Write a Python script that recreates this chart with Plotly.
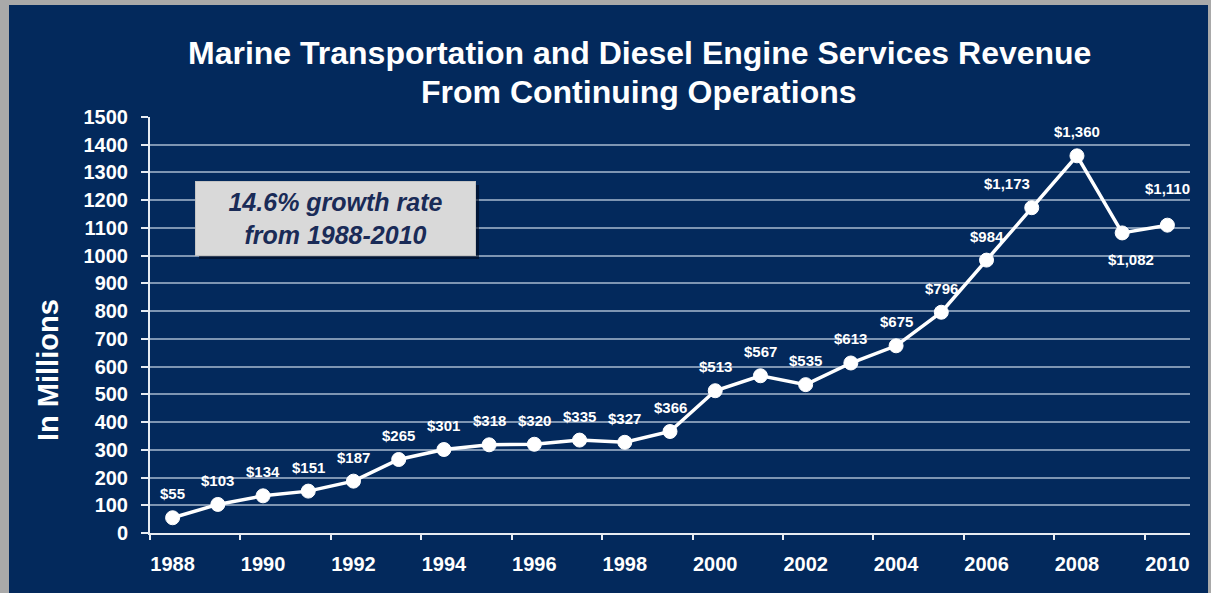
import plotly.graph_objects as go

years = list(range(1988, 2011))
revenue = [55, 103, 134, 151, 187, 265, 301, 318, 320, 335, 327, 366,
           513, 567, 535, 613, 675, 796, 984, 1173, 1360, 1082, 1110]
labels = ["$" + f"{v:,}" for v in revenue]
x_tick_years = list(range(1988, 2011, 2))
y_ticks = list(range(0, 1501, 100))

title_line1 = "Marine Transportation and Diesel Engine Services Revenue"
title_line2 = "From Continuing Operations"
y_title = "In Millions"
note_text = "14.6% growth rate<br>from 1988-2010"

NAVY = "#03295c"
FONT = "Liberation Sans, Arial, sans-serif"

W, H = 1211, 593
L, R, T, B = 150, 21, 117, 60
PW, PH = W - L - R, H - T - B


def px_x(px):
    return (px - L) / PW


def px_y(py):
    return (H - B - py) / PH


# label offsets in pixels (x, y) relative to each point
label_offsets = {2007: (-25, 24), 2009: (9, -27), 2010: (0, 37)}

fig = go.Figure()
fig.add_trace(go.Scatter(
    x=years, y=revenue, mode="lines+markers",
    line=dict(color="white", width=3.5),
    marker=dict(color="white", size=14, line=dict(color="white", width=1)),
    cliponaxis=False, showlegend=False, hoverinfo="skip",
))

annotations = []
for yr, val, lab in zip(years, revenue, labels):
    dx, dy = label_offsets.get(yr, (0, 24))
    annotations.append(dict(
        x=yr, y=val, xref="x", yref="y", text=lab, showarrow=False,
        xshift=dx, yshift=dy, xanchor="center", yanchor="middle",
        font=dict(size=15, color="white", family=FONT, weight="bold")))

annotations += [
    dict(text=title_line1, xref="paper", yref="paper", x=px_x(639), y=px_y(53),
         showarrow=False, xanchor="center", yanchor="middle",
         font=dict(size=32, color="white", family=FONT, weight="bold")),
    dict(text=title_line2, xref="paper", yref="paper", x=px_x(639), y=px_y(92),
         showarrow=False, xanchor="center", yanchor="middle",
         font=dict(size=32, color="white", family=FONT, weight="bold")),
    dict(text=y_title, xref="paper", yref="paper", x=px_x(48), y=px_y(370),
         showarrow=False, xanchor="center", yanchor="middle", textangle=-90,
         font=dict(size=29, color="white", family=FONT, weight="bold")),
    dict(text=note_text, xref="paper", yref="paper", x=px_x(335), y=px_y(218),
         showarrow=False, xanchor="center", yanchor="middle",
         width=275, height=69, borderpad=2, bgcolor="#d9d9d9",
         bordercolor="#c4c4c4", borderwidth=1,
         font=dict(size=25, color="#1a2b57", family=FONT, weight="bold",
                   style="italic")),
]

fig.update_layout(
    width=W, height=H,
    margin=dict(l=L, r=R, t=T, b=B),
    paper_bgcolor="#a9a9a9",
    plot_bgcolor=NAVY,
    font=dict(family=FONT, color="white"),
    xaxis=dict(
        range=[1987.5, 2010.5], tickvals=x_tick_years, ticks="", ticklen=0,
        ticklabelstandoff=12,
        showgrid=False, zeroline=False, showline=True, linecolor="#e8ecf2",
        linewidth=2,
        tickfont=dict(size=20, color="white", family=FONT, weight="bold"),
        minor=dict(tickvals=[1987.5 + 2 * k for k in range(12)], ticks="outside",
                   ticklen=5, tickcolor="#e8ecf2", tickwidth=2, showgrid=False),
    ),
    yaxis=dict(
        range=[0, 1500], tickvals=y_ticks, ticks="outside", ticklen=7,
        ticklabelstandoff=9,
        tickcolor="#e8ecf2", tickwidth=1.5,
        showgrid=True, gridcolor="rgba(180,195,215,0.7)", gridwidth=2,
        zeroline=False, showline=True, linecolor="#e8ecf2", linewidth=2,
        tickfont=dict(size=20, color="white", family=FONT, weight="bold"),
    ),
    shapes=[
        dict(type="rect", xref="paper", yref="paper", layer="below",
             x0=px_x(9), x1=px_x(1208), y0=px_y(600), y1=px_y(5),
             fillcolor=NAVY, line=dict(width=0)),
        dict(type="rect", xref="paper", yref="paper",
             x0=px_x(199), x1=px_x(479), y0=px_y(259), y1=px_y(185),
             fillcolor="rgba(0,10,30,0.6)", line=dict(width=0)),
    ],
    annotations=annotations,
)

fig.write_html("out.html", post_script="document.body.style.margin='0';",
               config={"displayModeBar": False})
